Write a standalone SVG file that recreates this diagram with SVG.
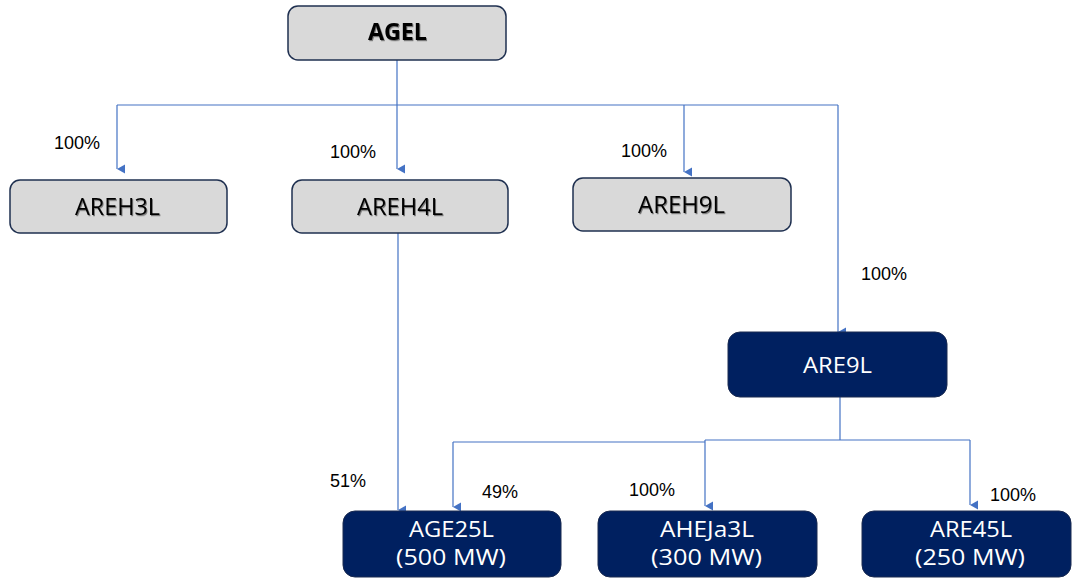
<svg xmlns="http://www.w3.org/2000/svg" width="1072" height="578" viewBox="0 0 1072 578">
<style>
.g{fill:#d9d9d9;stroke:#1f3050;stroke-width:1.5}
.d{fill:#002060;stroke:#1a2a50;stroke-width:1}
.gt{font-family:"Open Sans","DejaVu Sans",sans-serif;font-size:23px;fill:#000;filter:url(#sh)}
.dt{font-family:"Open Sans","DejaVu Sans",sans-serif;font-size:21px;fill:#fff}
.lb{font-family:"Liberation Sans",Arial,sans-serif;font-size:18px;fill:#000}
.c{fill:none;stroke:#4472c4;stroke-width:1.2}
</style>
<defs>
<filter id="sh" x="-10%" y="-30%" width="130%" height="170%">
<feDropShadow dx="1" dy="1.2" stdDeviation="0.7" flood-color="#000" flood-opacity="0.45"/>
</filter>
<marker id="ar" markerUnits="userSpaceOnUse" markerWidth="10" markerHeight="10" refX="5" refY="9" orient="auto-start-reverse" viewBox="0 0 10 10">
<path d="M0.5,1 L9.5,1 L5,9 Z" fill="#4472c4"/>
</marker>
</defs>
<g id="connectors">
<path class="c" d="M397,60 V105"/>
<path class="c" d="M117,105 H838"/>
<path class="c" d="M117,105 V169" marker-end="url(#ar)"/>
<path class="c" d="M397,105 V169" marker-end="url(#ar)"/>
<path class="c" d="M684,105 V172" marker-end="url(#ar)"/>
<path class="c" d="M838,105 V332" marker-end="url(#ar)"/>
<path class="c" d="M398,233 V510" marker-end="url(#ar)"/>
<path class="c" d="M840,397 V440"/>
<path class="c" d="M453,442 H705"/>
<path class="c" d="M705,440 H970"/>
<path class="c" d="M453,442 V507" marker-end="url(#ar)"/>
<path class="c" d="M705,440 V506" marker-end="url(#ar)"/>
<path class="c" d="M970,440 V505" marker-end="url(#ar)"/>
</g>
<g id="labels">
<text class="lb" x="54" y="149">100%</text>
<text class="lb" x="330" y="158">100%</text>
<text class="lb" x="621" y="157">100%</text>
<text class="lb" x="861" y="280">100%</text>
<text class="lb" x="330" y="487">51%</text>
<text class="lb" x="482" y="498">49%</text>
<text class="lb" x="629" y="496">100%</text>
<text class="lb" x="990" y="501">100%</text>
</g>
<g id="AGEL">
<rect class="g" x="288" y="6" width="218" height="54" rx="10"/>
<text class="gt" x="368" y="40" font-size="21" font-weight="bold" textLength="59" lengthAdjust="spacingAndGlyphs">AGEL</text>
</g>
<g id="AREH3L">
<rect class="g" x="10" y="180" width="217" height="53" rx="10"/>
<text class="gt" x="75" y="215" textLength="85" lengthAdjust="spacingAndGlyphs">AREH3L</text>
</g>
<g id="AREH4L">
<rect class="g" x="292" y="180" width="216" height="53" rx="10"/>
<text class="gt" x="357" y="215" textLength="86" lengthAdjust="spacingAndGlyphs">AREH4L</text>
</g>
<g id="AREH9L">
<rect class="g" x="573" y="178" width="218" height="53" rx="10"/>
<text class="gt" x="638" y="213" textLength="87" lengthAdjust="spacingAndGlyphs">AREH9L</text>
</g>
<g id="ARE9L">
<rect class="d" x="728" y="332" width="219" height="65" rx="12"/>
<text class="dt" x="803" y="373" font-size="22" textLength="69" lengthAdjust="spacingAndGlyphs">ARE9L</text>
</g>
<g id="AGE25L">
<rect class="d" x="343" y="511" width="218" height="66" rx="12"/>
<text class="dt" x="409" y="537" textLength="85" lengthAdjust="spacingAndGlyphs">AGE25L</text>
<text class="dt" x="396" y="565" textLength="110" lengthAdjust="spacingAndGlyphs">(500 MW)</text>
</g>
<g id="AHEJa3L">
<rect class="d" x="598" y="511" width="219" height="66" rx="12"/>
<text class="dt" x="660" y="537" textLength="94" lengthAdjust="spacingAndGlyphs">AHEJa3L</text>
<text class="dt" x="651" y="565" textLength="111" lengthAdjust="spacingAndGlyphs">(300 MW)</text>
</g>
<g id="ARE45L">
<rect class="d" x="862" y="511" width="209" height="66" rx="12"/>
<text class="dt" x="930" y="537" textLength="82" lengthAdjust="spacingAndGlyphs">ARE45L</text>
<text class="dt" x="915" y="565" textLength="110" lengthAdjust="spacingAndGlyphs">(250 MW)</text>
</g>
</svg>
